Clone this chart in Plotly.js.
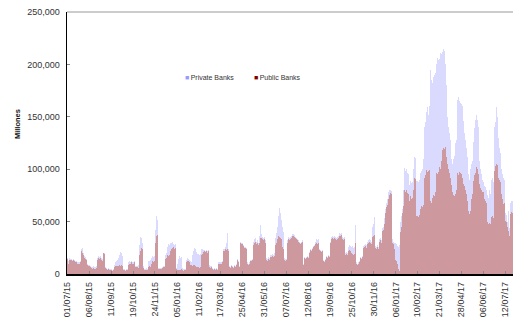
<!DOCTYPE html>
<html><head><meta charset="utf-8">
<script src="https://cdn.plot.ly/plotly-3.0.1.min.js"></script>
<style>html,body{margin:0;padding:0;background:#fff}#chart{width:513px;height:320px}</style>
</head><body><div id="chart"></div>
<script>
// Tick labels (every 26 business days)
const tickLabels = ['01/07/15','06/08/15','11/09/15','19/10/15','24/11/15','05/01/16','11/02/16','17/03/16','25/04/16','31/05/16','07/07/16','12/08/16','19/09/16','25/10/16','30/11/16','06/01/17','10/02/17','21/03/17','28/04/17','06/06/17','12/07/17'];
const seriesNames = ['Private Banks', 'Public Banks'];
const seriesColors = ['#9999ff', '#800000'];

// Daily values (Millones), one per business day from 01/07/15
const privateBanks = [
15000,12000,15000,15000,14000,14000,13000,14000,13000,13000,12000,12000,11000,11000,11000,11000,12000,24000,25000,20000,17000,16000,18000,14000,10000,9000,
9000,8000,9000,7000,7000,8000,7000,7000,8000,8000,15000,17000,16000,17000,15000,16000,14000,20000,20000,7000,6000,6000,5000,6000,5000,5000,
5000,5000,4000,5000,9000,11000,12000,12000,13000,15000,18000,21000,20000,17000,14000,5000,5000,4000,5000,5000,5000,11000,12000,11000,12000,11000,
11000,11000,12000,8000,8000,8000,9000,17000,28000,35000,34000,30000,8000,5000,5000,5000,6000,5000,12000,13000,12000,13000,15000,17000,16000,17000,
24000,42000,55000,52000,6000,6000,5000,6000,6000,7000,8000,8000,16000,18000,20000,26000,29000,28000,30000,31000,30000,31000,29000,28000,29000,6000,
6000,10000,14000,17000,15000,17000,16000,6000,5000,5000,5000,5000,13000,15000,14000,13000,12000,11000,14000,18000,22000,25000,24000,21000,20000,19000,
19000,18000,19000,24000,25000,24000,23000,23000,22000,23000,22000,23000,23000,9000,8000,8000,6000,6000,5000,6000,5000,6000,5000,5000,11000,11000,
11000,11000,12000,24000,25000,24000,26000,30000,39000,24000,8000,8000,7000,9000,8000,7000,8000,9000,8000,10000,14000,12000,8000,29000,31000,30000,
30000,28000,26000,25000,26000,25000,11000,10000,11000,12000,13000,13000,14000,31000,33000,34000,33000,31000,32000,30000,36000,47000,45000,38000,35000,34000,
35000,32000,33000,15000,14000,16000,15000,18000,19000,18000,19000,18000,20000,34000,39000,38000,45000,55000,63000,58000,52000,50000,45000,40000,15000,14000,
14000,13000,32000,35000,34000,35000,36000,38000,37000,38000,37000,35000,34000,33000,34000,32000,31000,30000,31000,32000,11000,10000,16000,15000,16000,17000,
16000,7000,21000,24000,23000,25000,27000,29000,28000,31000,33000,32000,33000,25000,24000,23000,22000,23000,13000,12000,13000,14000,17000,16000,18000,17000,
18000,31000,35000,36000,35000,36000,34000,35000,34000,35000,36000,39000,40000,38000,39000,35000,34000,35000,20000,19000,21000,20000,26000,28000,27000,28000,
26000,27000,25000,26000,47000,40000,11000,10000,11000,12000,16000,15000,16000,17000,27000,28000,29000,28000,32000,31000,32000,33000,32000,31000,32000,45000,
48000,54000,27000,26000,28000,27000,26000,33000,34000,32000,44000,43000,45000,53000,62000,68000,72000,76000,78000,80000,80000,79000,33000,31000,28000,30000,
30000,29000,27000,26000,30000,28000,50000,55000,62000,80000,95000,101000,98000,100000,96000,95000,80000,85000,89000,87000,88000,100000,112000,110000,111000,89000,
89000,88000,90000,99000,96000,98000,100000,110000,140000,147000,145000,155000,159000,152000,160000,195000,200000,185000,182000,188000,190000,192000,186000,200000,206000,204000,
205000,211000,208000,210000,212000,215000,213000,200000,180000,170000,150000,140000,135000,128000,110000,103000,105000,110000,113000,125000,128000,150000,166000,169000,165000,163000,
162000,160000,150000,146000,135000,128000,120000,112000,103000,95000,90000,100000,105000,108000,120000,126000,139000,147000,152000,147000,140000,120000,108000,100000,95000,90000,
88000,86000,84000,83000,80000,75000,73000,78000,80000,76000,90000,92000,88000,92000,140000,145000,159000,150000,130000,120000,118000,115000,100000,95000,92000,90000,
62000,58000,56000,50000,60000,44000,50000,68000,70000,70000
];
const publicBanks = [
14000,10000,13000,14000,13000,13000,12000,13000,12000,12000,11000,11000,10000,10000,10000,10000,11000,22000,20000,18000,15000,14000,16000,13000,9000,8000,
8000,7000,8000,6000,5000,6000,5000,5000,6000,6000,13000,15000,14000,15000,13000,14000,12000,20000,19000,6000,5000,5000,4000,5000,4000,4000,
4000,4000,3000,4000,7000,8000,8000,9000,8000,8000,9000,8000,9000,8000,7000,4000,4000,3000,4000,4000,4000,9000,10000,10000,11000,10000,
10000,10000,11000,7000,7000,7000,6000,12000,18000,22000,25000,24000,6000,4000,4000,4000,4000,4000,7000,7000,8000,7000,10000,12000,11000,12000,
20000,30000,36000,37000,5000,5000,4000,5000,5000,6000,7000,7000,12000,14000,15000,18000,17000,18000,22000,25000,24000,25000,26000,24000,25000,5000,
5000,4000,4000,4000,4000,4000,5000,4000,3000,4000,4000,4000,11000,12000,12000,11000,9000,9000,9000,8000,9000,9000,8000,7000,7000,7000,
7000,6000,7000,18000,20000,19000,21000,22000,21000,22000,20000,21000,22000,7000,6000,7000,5000,5000,4000,5000,4000,5000,4000,4000,10000,10000,
10000,10000,11000,22000,23000,22000,24000,23000,24000,22000,7000,7000,6000,8000,7000,6000,7000,8000,7000,9000,13000,11000,7000,28000,30000,29000,
29000,27000,25000,24000,25000,24000,10000,9000,10000,11000,12000,12000,13000,28000,30000,31000,30000,29000,30000,28000,30000,34000,35000,34000,33000,32000,
33000,30000,31000,13000,12000,14000,13000,16000,17000,16000,17000,16000,17000,28000,30000,29000,33000,36000,35000,34000,33000,25000,26000,24000,13000,12000,
13000,12000,30000,33000,32000,33000,34000,36000,35000,36000,35000,34000,33000,32000,33000,31000,30000,29000,30000,31000,10000,9000,15000,14000,15000,16000,
15000,6000,20000,23000,22000,24000,26000,28000,27000,29000,30000,29000,30000,24000,23000,22000,21000,22000,12000,11000,12000,13000,16000,15000,17000,16000,
17000,30000,33000,34000,33000,34000,32000,33000,32000,33000,34000,36000,37000,36000,37000,33000,32000,33000,18000,17000,19000,18000,22000,23000,22000,23000,
20000,19000,18000,19000,30000,29000,10000,9000,10000,11000,15000,14000,15000,16000,25000,26000,27000,25000,30000,29000,30000,31000,30000,29000,30000,35000,
36000,37000,25000,24000,26000,25000,24000,31000,32000,30000,41000,40000,42000,48000,58000,64000,66000,70000,72000,75000,77000,76000,30000,29000,23000,24000,
13000,12000,10000,5000,4000,3000,40000,45000,58000,65000,75000,80000,78000,80000,77000,76000,62000,70000,74000,72000,73000,80000,92000,90000,91000,55000,
55000,54000,56000,63000,62000,65000,64000,66000,92000,90000,94000,99000,97000,98000,99000,70000,72000,68000,73000,75000,74000,78000,77000,96000,95000,97000,
102000,100000,104000,108000,118000,120000,119000,121000,112000,110000,105000,100000,96000,92000,85000,80000,78000,75000,74000,76000,80000,85000,96000,94000,97000,96000,
95000,92000,88000,86000,84000,80000,76000,70000,62000,60000,57000,60000,72000,76000,80000,89000,94000,96000,102000,100000,95000,90000,86000,82000,80000,78000,
78000,76000,72000,70000,68000,50000,48000,47000,49000,48000,54000,55000,53000,54000,98000,103000,105000,104000,92000,90000,89000,88000,76000,72000,67000,68000,
55000,51000,50000,45000,41000,36000,35000,57000,59000,58000
];

const tickStep = 26;
const xIdx = privateBanks.map((_, i) => i);
const tickVals = tickLabels.map((_, i) => i * tickStep);
const N = privateBanks.length;

const traces = [
  {type: 'bar', name: seriesNames[0], x: xIdx, y: privateBanks, showlegend: false,
   marker: {color: 'rgba(153,153,255,0.36)', line: {width: 0}}, hoverinfo: 'y'},
  {type: 'bar', name: seriesNames[1], x: xIdx, y: publicBanks, showlegend: false,
   marker: {color: 'rgba(200,122,112,0.68)', line: {width: 0}}, hoverinfo: 'y'}
];

// Legend drawn as annotations (square key + label), placed like the original
const legendItems = seriesNames.map((name, i) => ({
  xref: 'paper', yref: 'paper', x: [0.2595, 0.4145][i], y: 0.75,
  xanchor: 'left', yanchor: 'middle', showarrow: false,
  text: '<span style="color:' + seriesColors[i] + '">\u25A0</span>\u2009' + name,
  font: {size: 7, color: '#333', family: 'Liberation Sans, Arial, sans-serif'}
}));

const layout = {
  width: 513, height: 320,
  margin: {l: 67, r: 0, t: 12, b: 46, pad: 0},
  paper_bgcolor: '#fff', plot_bgcolor: '#fff',
  barmode: 'overlay', bargap: 0,
  font: {family: 'Liberation Sans, Arial, sans-serif', size: 9, color: '#333'},
  xaxis: {
    range: [-0.5, N - 0.5], tickmode: 'array', tickvals: tickVals, ticktext: tickLabels,
    tickangle: -90, ticks: 'inside', ticklen: 3, tickcolor: '#888', ticklabelstandoff: 3,
    showline: true, linecolor: '#000', linewidth: 1.5, showgrid: false, zeroline: false,
    tickfont: {size: 9, color: '#333'}, automargin: false, fixedrange: true
  },
  yaxis: {
    range: [0, 250000], dtick: 50000, tickformat: ',d', ticks: 'inside', ticklen: 3, tickcolor: '#888',
    ticklabelstandoff: 4,
    showline: true, linecolor: '#000', linewidth: 1.5, showgrid: false, zeroline: false,
    tickfont: {size: 9, color: '#333'}, automargin: false
  },
  shapes: [{type: 'line', xref: 'paper', yref: 'paper', x0: 0, x1: 1, y0: 1, y1: 1,
            line: {color: '#999', width: 1}}],
  showlegend: false,
  annotations: [
    {xref: 'paper', yref: 'paper', x: -0.112, y: 0.5725, textangle: -90, showarrow: false,
     xanchor: 'center', yanchor: 'middle', text: '<b>Millones</b>',
     font: {size: 7.5, color: '#111', family: 'Liberation Sans, Arial, sans-serif'}}
  ].concat(legendItems)
};

Plotly.newPlot('chart', traces, layout, {displayModeBar: false, staticPlot: true});
</script>
</body></html>
